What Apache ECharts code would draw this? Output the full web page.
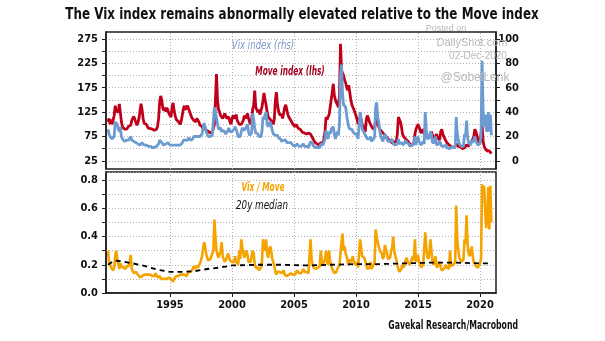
<!DOCTYPE html>
<html><head><meta charset="utf-8">
<script src="https://cdn.jsdelivr.net/npm/echarts@6/dist/echarts.min.js"></script>
<style>html,body{margin:0;padding:0;background:#fff}#c{width:605px;height:341px}</style>
</head><body><div id="c"></div>
<script>
// monthly observations, Jan 1990 .. Dec 2020
const startYear = 1990;
const moveIndex = [
105,112,100,110,100,104,118,138,128,130,124,142, // 1990
140,105,95,92,90,94,90,88,96,92,98,108,          // 1991
104,116,112,104,98,104,112,128,142,130,112,102,  // 1992
98,100,96,92,94,91,88,90,86,88,84,90,            // 1993
96,112,145,158,150,134,128,134,126,134,130,122,  // 1994
118,115,135,144,128,118,110,112,106,104,100,108, // 1995
120,132,138,130,134,138,132,128,120,114,110,108, // 1996
112,105,112,115,105,98,95,96,90,95,92,88,        // 1997
88,86,84,82,85,84,88,100,150,203,150,130,        // 1998
125,118,120,112,115,122,118,112,108,115,105,100, // 1999
110,118,122,112,120,108,104,100,98,100,104,108,  // 2000
118,112,115,122,112,105,100,108,130,140,169,135, // 2001
132,125,130,120,128,135,150,164,150,140,125,115, // 2002
115,110,108,105,100,112,150,166,140,128,120,118, // 2003
120,112,110,135,140,130,120,115,112,108,104,100, // 2004
98,95,100,96,92,88,90,86,84,88,82,80,            // 2005
80,78,82,85,80,78,72,68,64,62,60,60,             // 2006
58,56,62,60,62,70,85,115,110,108,120,135,        // 2007
150,165,183,160,150,145,140,135,160,265,210,205, // 2008
200,190,185,175,170,180,165,150,140,135,130,128, // 2009
118,110,100,98,115,110,100,95,90,85,110,118,     // 2010
112,105,100,98,92,95,90,110,105,100,95,90,       // 2011
88,85,82,80,78,75,72,70,68,66,65,62,             // 2012
62,64,66,65,80,115,110,105,95,80,75,72,          // 2013
70,68,66,64,60,58,56,58,62,80,90,95,             // 2014
100,95,88,82,85,90,80,78,75,72,74,75,            // 2015
80,85,78,72,70,75,80,72,70,68,85,90,             // 2016
80,75,70,66,62,60,58,56,55,54,52,52,             // 2017
55,60,58,55,56,54,52,50,50,52,54,58,             // 2018
58,55,60,62,65,70,75,90,85,78,68,65,             // 2019
62,80,100,65,55,50,48,45,44,46,42,40             // 2020
];
const vixIndex = [
26,22,20,20,18,17,20,32,33,30,26,24,
28,20,18,17,16,16,17,16,17,18,20,17,
17,16,15,15,14,14,13,13,14,15,14,13,
13,13,12,12,13,12,11,11,11,11,12,12,
11,14,17,16,15,14,13,13,14,14,15,14,
13,12,13,12,13,13,13,13,13,14,13,13,
15,17,18,17,16,17,19,18,17,17,18,20,
19,20,21,20,20,20,21,22,21,31,28,24,
22,20,19,20,21,21,21,44,40,40,30,26,
26,27,24,24,25,24,22,23,25,27,24,23,
24,24,26,28,26,23,20,19,20,24,27,28,
25,24,28,30,24,21,21,23,39,34,27,23,
22,22,20,20,20,24,36,34,38,40,31,28,
30,32,31,25,22,21,21,20,21,19,18,18,
16,16,17,16,17,15,15,15,14,15,14,13,
13,12,13,14,14,12,11,12,12,14,12,12,
12,11,11,12,16,15,14,12,11,11,10,11,
11,11,14,13,13,14,18,25,21,18,24,22,
26,26,28,22,18,21,24,21,30,70,79,55,
46,45,44,37,32,28,26,26,26,24,24,22,
22,22,18,17,40,34,26,25,23,21,21,18,
18,18,20,16,16,18,20,44,48,36,32,25,
20,18,16,17,22,20,18,16,15,16,17,18,
14,14,13,14,14,18,14,15,15,16,13,14,
17,15,15,14,12,11,13,13,14,20,13,17,
20,16,15,13,13,16,14,40,26,18,17,19,
24,22,15,14,15,20,13,12,14,16,15,12,
12,12,12,13,11,11,10,11,11,10,11,11,
11,36,22,17,14,14,12,12,12,22,20,33,
19,15,14,13,17,15,14,20,16,15,13,14,
14,20,82,41,28,38,26,24,40,24,38,21
];
const vixMoveRatio = [
0.30,0.22,0.20,0.18,0.17,0.16,0.18,0.26,0.30,0.24,0.21,0.17,
0.21,0.19,0.20,0.18,0.19,0.17,0.19,0.18,0.19,0.22,0.27,0.17,
0.16,0.14,0.14,0.15,0.14,0.13,0.12,0.11,0.10,0.12,0.13,0.13,
0.13,0.13,0.12,0.13,0.14,0.13,0.12,0.12,0.13,0.12,0.14,0.13,
0.11,0.12,0.12,0.10,0.10,0.10,0.10,0.10,0.11,0.10,0.11,0.11,
0.11,0.10,0.10,0.08,0.10,0.11,0.12,0.12,0.12,0.13,0.13,0.12,
0.13,0.13,0.13,0.13,0.12,0.13,0.15,0.14,0.15,0.16,0.17,0.19,
0.17,0.19,0.20,0.18,0.19,0.21,0.23,0.26,0.25,0.36,0.33,0.28,
0.25,0.23,0.23,0.24,0.26,0.25,0.30,0.52,0.40,0.30,0.27,0.25,
0.24,0.30,0.36,0.26,0.24,0.22,0.22,0.25,0.28,0.26,0.23,0.22,
0.22,0.21,0.22,0.26,0.22,0.21,0.20,0.30,0.24,0.38,0.32,0.28,
0.25,0.24,0.30,0.27,0.22,0.21,0.22,0.21,0.30,0.28,0.20,0.18,
0.17,0.18,0.16,0.17,0.18,0.22,0.38,0.30,0.32,0.38,0.28,0.25,
0.30,0.33,0.30,0.24,0.22,0.19,0.15,0.13,0.15,0.15,0.15,0.15,
0.14,0.15,0.16,0.13,0.12,0.12,0.13,0.13,0.13,0.14,0.14,0.13,
0.13,0.13,0.14,0.16,0.15,0.14,0.13,0.14,0.14,0.17,0.15,0.15,
0.15,0.14,0.14,0.15,0.38,0.24,0.20,0.18,0.17,0.17,0.17,0.18,
0.18,0.19,0.30,0.22,0.20,0.21,0.24,0.30,0.22,0.20,0.30,0.22,
0.20,0.17,0.16,0.14,0.13,0.15,0.17,0.16,0.20,0.28,0.36,0.42,
0.30,0.33,0.28,0.26,0.22,0.20,0.24,0.22,0.24,0.26,0.22,0.20,
0.20,0.22,0.18,0.17,0.38,0.32,0.26,0.26,0.25,0.24,0.20,0.17,
0.17,0.18,0.22,0.17,0.18,0.20,0.22,0.45,0.40,0.36,0.33,0.30,
0.30,0.28,0.24,0.26,0.34,0.35,0.28,0.24,0.23,0.25,0.30,0.32,
0.40,0.30,0.26,0.24,0.20,0.17,0.15,0.16,0.17,0.20,0.18,0.19,
0.23,0.25,0.22,0.21,0.20,0.19,0.24,0.26,0.23,0.38,0.22,0.25,
0.27,0.22,0.20,0.18,0.18,0.20,0.20,0.43,0.32,0.26,0.24,0.28,
0.38,0.30,0.22,0.20,0.20,0.26,0.18,0.17,0.20,0.22,0.18,0.16,
0.16,0.17,0.18,0.20,0.18,0.18,0.17,0.30,0.19,0.18,0.20,0.21,
0.22,0.62,0.38,0.30,0.25,0.24,0.22,0.23,0.24,0.38,0.35,0.55,
0.34,0.28,0.26,0.25,0.33,0.26,0.22,0.22,0.19,0.20,0.18,0.19,
0.21,0.24,0.77,0.70,0.76,0.58,0.46,0.55,0.75,0.45,0.76,0.50
];
const medianYears  = [1990,1990.5,1991,1992,1993,1994,1995,1996,1997,1998,1999,2000,2002,2004,2006,2008,2010,2012,2014,2016,2018,2020,2020.92];
const medianValues = [0.20,0.23,0.225,0.21,0.19,0.165,0.15,0.15,0.155,0.17,0.18,0.195,0.20,0.20,0.195,0.20,0.205,0.205,0.21,0.215,0.215,0.21,0.21];

const yearTicks  = [1995,2000,2005,2010,2015,2020];
const moveLabels = [25,75,125,175,225,275];
const moveTickVals = [25,50,75,100,125,150,175,200,225,250,275];
const vixLabels  = [0,20,40,60,80,100];
const vixTickVals = [0,10,20,30,40,50,60,70,80,90,100];

const RED = '#C0001B', BLUE = '#6C9BD2', ORANGE = '#F5A300';
const FONT = '"Liberation Sans Narrow","DejaVu Sans Condensed","Liberation Sans",sans-serif';
const AX = '#1e1e1e';

function monthly(arr){ return arr.map((v,i)=>[startYear + i/12, v]); }

const chart = echarts.init(document.getElementById('c'), null, {renderer:'canvas'});
const labelStyle = {color:'#111', fontFamily:FONT, fontSize:11, fontWeight:'bold'};
const dotted = {type:[1,2], color:'#b0b0b0', width:1};

const lastRatio = vixMoveRatio[vixMoveRatio.length-1];
const lastMedian = medianValues[medianValues.length-1];

function txt(x, y, text, font, fill, align, sx, z){
  return {type:'text', x:x, y:y, scaleX:sx||1, z:z||10,
    style:{text:text, fill:fill, font:font, textAlign:align||'center', textVerticalAlign:'middle'}};
}
function yearGridSeries(xi, yi){
  return {type:'line', xAxisIndex:xi, yAxisIndex:yi, data:[[yearTicks[0], null]], z:0, silent:true,
    showSymbol:false, lineStyle:{opacity:0},
    markLine:{silent:true, symbol:'none', animation:false, z:0,
      lineStyle:dotted, label:{show:false},
      data:yearTicks.map(y=>({xAxis:y}))}};
}

chart.setOption({
  animation:false,
  backgroundColor:'#fff',
  grid:[
    {left:106, top:32, width:390, height:137, show:true, borderColor:AX, borderWidth:1.5, backgroundColor:'transparent'},
    {left:106, top:172, width:390, height:121, show:true, borderColor:AX, borderWidth:1.5, backgroundColor:'transparent'}
  ],
  xAxis:[
    {gridIndex:0, type:'value', min:1989.84, max:2021.29,
     axisLine:{show:false},
     axisTick:{show:false, customValues:yearTicks},
     axisLabel:{show:false, customValues:yearTicks},
     splitLine:{show:false}},
    {gridIndex:1, type:'value', min:1989.84, max:2021.29,
     axisLine:{show:true, onZero:false, lineStyle:{color:AX, width:1.5}},
     axisTick:{show:true, length:4, customValues:yearTicks, lineStyle:{color:AX}},
     axisLabel:Object.assign({customValues:yearTicks, margin:7, formatter:v=>String(v)}, labelStyle),
     splitLine:{show:false}}
  ],
  yAxis:[
    {gridIndex:0, type:'value', position:'left', min:8.5, max:289,
     axisLine:{show:true, lineStyle:{color:AX, width:1.5}},
     axisTick:{show:true, length:4, customValues:moveTickVals, lineStyle:{color:AX}},
     axisLabel:Object.assign({customValues:moveLabels, margin:8}, labelStyle),
     splitLine:{show:true, lineStyle:dotted}},
    {gridIndex:0, type:'value', position:'right', min:-6.6, max:105.6,
     axisLine:{show:true, lineStyle:{color:AX, width:1.5}},
     axisTick:{show:true, length:4, customValues:vixTickVals, lineStyle:{color:AX}},
     axisLabel:Object.assign({customValues:vixLabels, margin:23, align:'right'}, labelStyle),
     splitLine:{show:false}},
    {gridIndex:1, type:'value', position:'left', min:0, max:0.857, interval:0.1,
     axisLine:{show:true, lineStyle:{color:AX, width:1.5}},
     axisTick:{show:true, length:4, lineStyle:{color:AX}},
     axisLabel:Object.assign({margin:8, showMaxLabel:false,
        formatter:v=>{const k=Math.round(v*10); return k%2===0 ? (k/10).toFixed(1) : '';}}, labelStyle),
     splitLine:{show:true, lineStyle:dotted}}
  ],
  series:[
    yearGridSeries(0, 0),
    yearGridSeries(1, 2),
    {name:'Move index (lhs)', type:'line', xAxisIndex:0, yAxisIndex:0, data:monthly(moveIndex),
     showSymbol:false, lineStyle:{color:RED, width:2.8}, z:2},
    {name:'Vix index (rhs)', type:'line', xAxisIndex:0, yAxisIndex:1, data:monthly(vixIndex),
     showSymbol:false, lineStyle:{color:BLUE, width:2.8}, z:3},
    {name:'Vix / Move', type:'line', xAxisIndex:1, yAxisIndex:2, data:monthly(vixMoveRatio),
     showSymbol:false, lineStyle:{color:ORANGE, width:2.6}, z:2,
     markLine:{silent:true, symbol:'none', lineStyle:{opacity:0},
       data:[{yAxis:lastRatio}],
       label:{position:'end', distance:7, formatter:()=>lastRatio.toFixed(2), color:ORANGE, fontFamily:FONT, fontSize:11.5}}},
    {name:'20y median', type:'line', xAxisIndex:1, yAxisIndex:2, data:medianYears.map((y,i)=>[y,medianValues[i]]),
     showSymbol:false, lineStyle:{color:'#000', width:1.8, type:[5,4]}, z:3,
     markLine:{silent:true, symbol:'none', lineStyle:{opacity:0},
       data:[{yAxis:lastMedian}],
       label:{position:'end', distance:7, formatter:()=>lastMedian.toFixed(2), color:'#111', fontFamily:FONT, fontSize:11.5, fontWeight:'bold'}}}
  ],
  graphic:[
    txt(302, 15, 'The Vix index remains abnormally elevated relative to the Move index', 'bold 15px '+FONT, '#111', 'center', 0.885, 5),
    txt(446, 29, 'Posted on', '9px "Liberation Sans",sans-serif', '#b8b8b8', 'center', 1, 1),
    txt(472, 43, 'DailyShot.com', '11px "Liberation Sans",sans-serif', '#b8b8b8'),
    txt(478, 56, '02-Dec-2020', '10px "Liberation Sans",sans-serif', '#b8b8b8'),
    txt(475, 78, '@SobelLenk', '12px "Liberation Sans",sans-serif', '#b8b8b8'),
    txt(263, 46, 'Vix index (rhs)', 'italic 12.5px '+FONT, '#7c97c4', 'center', 0.76),
    txt(290, 72, 'Move index (lhs)', 'italic bold 12.5px '+FONT, '#A8001C', 'center', 0.66),
    txt(263, 188, 'Vix / Move', 'italic bold 12.5px '+FONT, ORANGE, 'center', 0.66),
    txt(262, 206, '20y median', 'italic 12.5px '+FONT, '#111', 'center', 0.78),
    txt(518, 326, 'Gavekal Research/Macrobond', 'bold 12px '+FONT, '#111', 'right', 0.72)
  ]
});
</script></body></html>
